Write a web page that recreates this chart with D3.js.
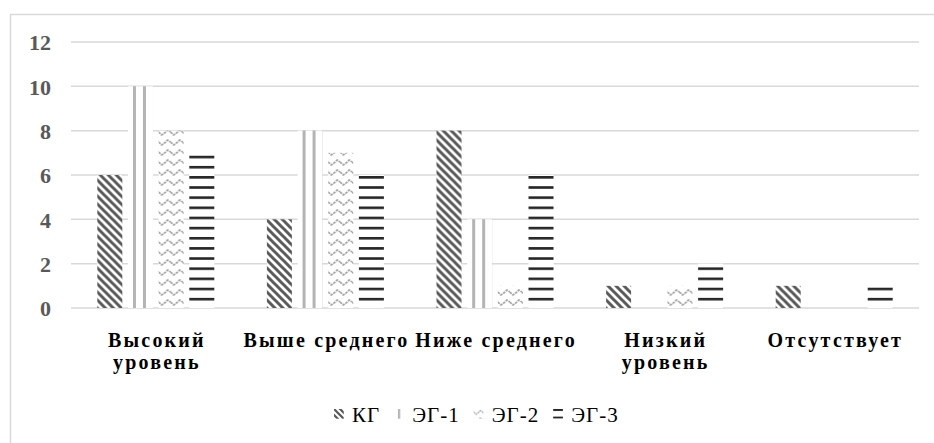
<!DOCTYPE html>
<html><head><meta charset="utf-8">
<script src="https://cdn.jsdelivr.net/npm/d3@7/dist/d3.min.js"></script>
<style>
html,body{margin:0;padding:0;background:#fff;}
svg{display:block;}
</style></head>
<body>
<svg id="chart" width="934" height="443"></svg>
<script>
const categories = ["Высокий уровень", "Выше среднего", "Ниже среднего", "Низкий уровень", "Отсутствует"];
const categoryLines = [["Высокий", "уровень"], ["Выше среднего"], ["Ниже среднего"], ["Низкий", "уровень"], ["Отсутствует"]];
const series = ["КГ", "ЭГ-1", "ЭГ-2", "ЭГ-3"];
const valuesKG  = [6, 4, 8, 1, 1];
const valuesEG1 = [10, 8, 4, 0, 0];
const valuesEG2 = [8, 7, 1, 1, 0];
const valuesEG3 = [7, 6, 6, 2, 1];
const yTicks = [0, 2, 4, 6, 8, 10, 12];

const seriesValues = [valuesKG, valuesEG1, valuesEG2, valuesEG3];
const SERIF = '"Liberation Serif", "Times New Roman", serif';
const svg = d3.select("#chart");
const plot = {left: 71, right: 919, top: 42, bottom: 308};

svg.append("rect").attr("x", 10.5).attr("y", 14.5).attr("width", 940).attr("height", 460)
  .attr("fill", "#fff").attr("stroke", "#d9d9d9").attr("stroke-width", 1.5);

// patterns (anchored to each bar's bottom-left, since bars are drawn in translated groups)
const defs = svg.append("defs");
const pKG = defs.append("pattern").attr("id", "p0").attr("patternUnits", "userSpaceOnUse")
  .attr("width", 8).attr("height", 8);
pKG.append("rect").attr("width", 8).attr("height", 8).attr("fill", "#fff");
pKG.append("path").attr("d", "M-2,-2 L10,10 M-2,6 L2,10 M6,-2 L10,2")
  .attr("stroke", "#595959").attr("stroke-width", 3);

const pE1 = defs.append("pattern").attr("id", "p1").attr("patternUnits", "userSpaceOnUse")
  .attr("width", 10).attr("height", 10);
pE1.append("rect").attr("width", 10).attr("height", 10).attr("fill", "#fff");
pE1.append("rect").attr("x", 5).attr("width", 3).attr("height", 10).attr("fill", "#b4b4b4");

const pE2 = defs.append("pattern").attr("id", "p2").attr("patternUnits", "userSpaceOnUse")
  .attr("width", 12).attr("height", 10);
pE2.append("rect").attr("width", 12).attr("height", 10).attr("fill", "#fff");
pE2.append("path").attr("d", "M0,4 L3,7 L6,5 L9,2 L12,4")
  .attr("fill", "none").attr("stroke", "#9a9a9a").attr("stroke-width", 1.6).attr("stroke-dasharray", "2.5,1");

const pE3 = defs.append("pattern").attr("id", "p3").attr("patternUnits", "userSpaceOnUse")
  .attr("width", 10).attr("height", 10.15);
pE3.append("rect").attr("width", 10).attr("height", 10.15).attr("fill", "#fff");
pE3.append("rect").attr("y", 0).attr("width", 10).attr("height", 2.6).attr("fill", "#262626");

const fills = ["url(#p0)", "url(#p1)", "url(#p2)", "url(#p3)"];

const y = d3.scaleLinear().domain([0, 12]).range([plot.bottom, plot.top]);
const x0 = d3.scaleBand().domain(categories).range([plot.left, plot.right]);
const groupW = 117;
const x1 = d3.scaleBand().domain(series).range([0, groupW]).paddingInner(0.185);

svg.append("g").selectAll("line").data(yTicks).join("line")
  .attr("x1", plot.left).attr("x2", plot.right)
  .attr("y1", d => y(d)).attr("y2", d => y(d))
  .attr("stroke", "#d9d9d9").attr("stroke-width", 1.5);

const yAxis = d3.axisLeft(y).tickValues(yTicks).tickSize(0).tickPadding(0);
const gy = svg.append("g").attr("transform", `translate(51,0)`).call(yAxis);
gy.select(".domain").remove();
gy.attr("font-family", null).attr("font-size", null);
gy.selectAll("text").style("font-family", SERIF)
  .style("font-weight", "bold").style("font-size", "22px").attr("fill", "#595959").attr("dy", "0.35em");

const groups = svg.append("g").selectAll("g").data(categories).join("g")
  .attr("transform", c => `translate(${x0(c) + (x0.bandwidth() - groupW) / 2},0)`);
groups.selectAll("g").data((c, i) => series.map((s, k) => ({s, k, v: seriesValues[k][i]})))
  .join("g")
  .attr("transform", d => `translate(${x1(d.s)},${y(0)})`)
  .append("rect")
  .attr("x", 0).attr("width", x1.bandwidth())
  .attr("y", d => y(d.v) - y(0)).attr("height", d => y(0) - y(d.v))
  .attr("fill", d => fills[d.k]);

const gx = svg.append("g");
const ls = 2.2;
categories.forEach((c, i) => {
  const cx = x0(c) + x0.bandwidth() / 2 + ls / 2;
  const t = gx.append("text").attr("x", cx).attr("y", 347)
    .attr("text-anchor", "middle")
    .style("font-family", SERIF).style("font-weight", "bold").style("font-size", "20px")
    .style("letter-spacing", ls + "px").attr("fill", "#000");
  categoryLines[i].forEach((w, j) => t.append("tspan").attr("x", cx).attr("dy", j === 0 ? 0 : 22).text(w));
});

const lg = svg.append("g");
let lx = 334;
const legendY = 422;
series.forEach((s, k) => {
  lg.append("g").attr("transform", `translate(${lx},${legendY - 13}) scale(0.75)`)
    .append("rect").attr("x", 0).attr("y", 0).attr("width", 13).attr("height", 13).attr("fill", fills[k]);
  const t = lg.append("text").attr("x", lx + 18).attr("y", legendY)
    .style("font-family", SERIF).style("font-size", "21px").style("letter-spacing", "1px")
    .attr("fill", "#000").text(s);
  lx += 18 + t.node().getComputedTextLength() + 14;
});
</script>
</body></html>
